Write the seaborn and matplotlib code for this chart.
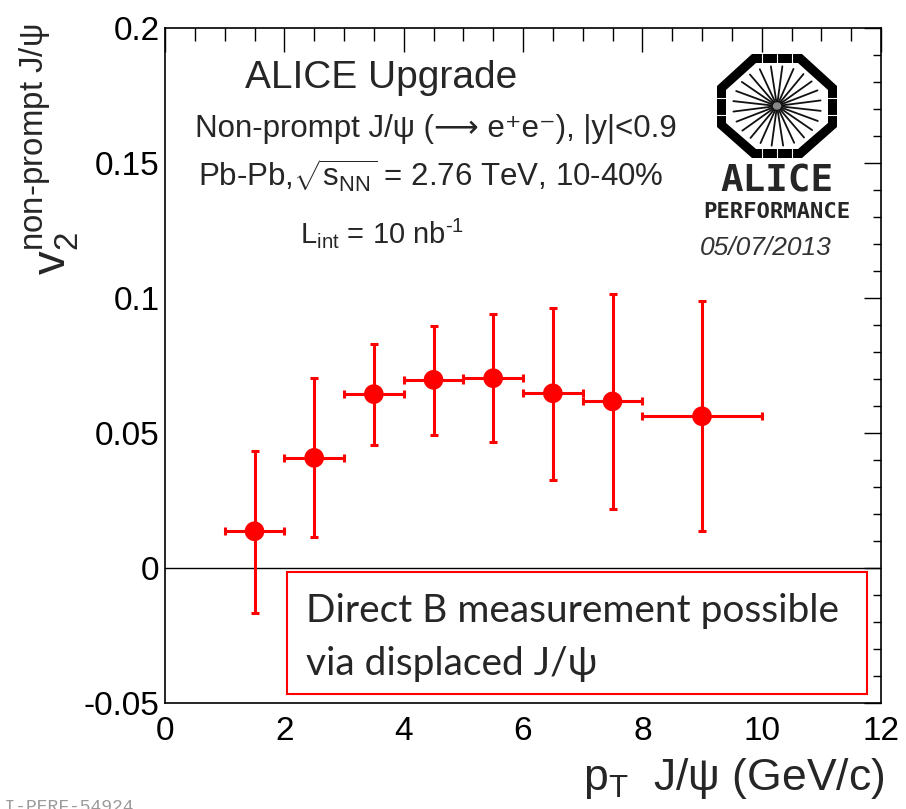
import numpy as np
import pandas as pd
import matplotlib
matplotlib.use("Agg")
import matplotlib.pyplot as plt
import seaborn as sns
from matplotlib.patches import Rectangle, Polygon
from matplotlib.ticker import MultipleLocator

# ---------------- data ----------------
pt_center = [1.5, 2.5, 3.5, 4.5, 5.5, 6.5, 7.5, 9.0]
pt_halfwidth = [0.5, 0.5, 0.5, 0.5, 0.5, 0.5, 0.5, 1.0]
v2_value = [0.0136, 0.0408, 0.0644, 0.0697, 0.0703, 0.0647, 0.0617, 0.0562]
v2_err_low = [0.0301, 0.0295, 0.0188, 0.0203, 0.0238, 0.0320, 0.0400, 0.0426]
v2_err_high = [0.0297, 0.0296, 0.0186, 0.0200, 0.0237, 0.0317, 0.0399, 0.0426]
x_ticks = [0, 2, 4, 6, 8, 10, 12]
y_ticks = [-0.05, 0, 0.05, 0.1, 0.15, 0.2]
y_tick_labels = ["-0.05", "0", "0.05", "0.1", "0.15", "0.2"]

df = pd.DataFrame({"pt": pt_center, "v2": v2_value})

# ---------------- style ----------------
sns.set_style("white")
plt.rcParams["font.family"] = ["Liberation Sans", "DejaVu Sans"]
plt.rcParams["mathtext.fontset"] = "custom"
plt.rcParams["mathtext.rm"] = "Liberation Sans"
plt.rcParams["mathtext.it"] = "Liberation Sans:italic"
plt.rcParams["mathtext.bf"] = "Liberation Sans:bold"
plt.rcParams["mathtext.sf"] = "Liberation Sans"

W, H = 906, 809
fig = plt.figure(figsize=(W / 100, H / 100), dpi=100)
fig.patch.set_facecolor("white")

def fx(px):
    return px / W

def fy(py):
    return 1 - py / H

ax = fig.add_axes([fx(165), fy(703), fx(881) - fx(165), fy(28) - fy(703)])
ax.set_facecolor("white")

# error bars + markers
ax.errorbar(df["pt"], df["v2"], xerr=pt_halfwidth, yerr=[v2_err_low, v2_err_high],
            fmt="none", ecolor="#ff0000", elinewidth=2.2, capsize=3, capthick=2.2, zorder=2)
sns.scatterplot(data=df, x="pt", y="v2", ax=ax, color="#ff0000", s=200,
                edgecolor="none", marker="o", zorder=3, legend=False)

ax.axhline(0, color="black", lw=1.0, zorder=1)

ax.set_xlim(0, 12)
ax.set_ylim(-0.05, 0.2)
ax.set_xticks(x_ticks)
ax.set_xticklabels([str(t) for t in x_ticks])
ax.set_yticks(y_ticks)
ax.set_yticklabels(y_tick_labels)
ax.xaxis.set_minor_locator(MultipleLocator(0.5))
ax.yaxis.set_minor_locator(MultipleLocator(0.01))
ax.tick_params(axis="both", which="both", direction="in", top=True, right=True,
               labelsize=24, colors="black", width=1.0)
ax.tick_params(axis="x", which="major", length=17, pad=9)
ax.tick_params(axis="x", which="minor", length=9)
ax.tick_params(axis="y", which="major", length=12, pad=4)
ax.tick_params(axis="y", which="minor", length=6)
for s in ax.spines.values():
    s.set_color("black")
    s.set_linewidth(1.2)
ax.set_xlabel("")
ax.set_ylabel("")

# axis titles
fig.text(fx(884), fy(790), r"p$_{\mathrm{T}}$  J/ψ (GeV/c)", ha="right", va="baseline",
         fontsize=32)
fig.text(fx(49), fy(24), r"$\mathrm{v}_{2}^{\mathrm{non}\text{-}\mathrm{prompt\ J/ψ}}$",
         rotation=90, ha="center", va="top", fontsize=34)

# in-plot texts
fig.text(fx(245), fy(88), "ALICE Upgrade", ha="left", va="baseline", fontsize=28)
fig.text(fx(195), fy(137), "Non-prompt J/ψ (\u27f6 e\u207ae\u207b), |y|<0.9",
         ha="left", va="baseline", fontsize=22.5, family=["Liberation Sans", "DejaVu Sans"])
fig.text(fx(198), fy(187), r"Pb-Pb,$\sqrt{\mathrm{s}_{\mathrm{NN}}}$ = 2.76 TeV, 10-40%",
         ha="left", va="baseline", fontsize=22.5)
fig.text(fx(300), fy(243), r"L$_{\mathrm{int}}$ = 10 nb$^{\text{-1}}$",
         ha="left", va="baseline", fontsize=21)

# ALICE logo
lax = fig.add_axes([fx(710), fy(165), fx(845) - fx(710), fy(50) - fy(165)])
lax.set_xlim(710, 845)
lax.set_ylim(165, 50)
lax.axis("off")
outer = [(752, 54), (802, 54), (837, 86), (837, 127), (802, 158), (752, 158), (717, 127), (717, 86)]
inner = [(756, 63), (798, 63), (828, 90), (828, 123), (798, 149), (756, 149), (726, 123), (726, 90)]
lax.add_patch(Polygon(outer, closed=True, facecolor="black", edgecolor="none"))
lax.add_patch(Polygon(inner, closed=True, facecolor="white", edgecolor="none"))
cxl, cyl = 777, 106
for k in range(24):
    a = np.deg2rad(k * 15 + 7)
    lax.plot([cxl + 5 * np.cos(a), cxl + 44 * np.cos(a)],
             [cyl + 4.5 * np.sin(a), cyl + 40 * np.sin(a)], color="#111111", lw=1.3)
lax.add_patch(plt.Circle((cxl, cyl), 4, color="#888888"))
for xx in (762, 777, 792):
    lax.plot([xx, xx], [54, 63], color="white", lw=0.8)
    lax.plot([xx, xx], [149, 158], color="white", lw=0.8)
for yy in (98, 115):
    lax.plot([717, 726], [yy, yy], color="white", lw=0.8)
    lax.plot([828, 837], [yy, yy], color="white", lw=0.8)

fig.text(fx(777), fy(192), "ALICE", ha="center", va="baseline", fontsize=27,
         family="DejaVu Sans Mono", weight="bold")
fig.text(fx(777), fy(218), "PERFORMANCE", ha="center", va="baseline", fontsize=16,
         family="DejaVu Sans Mono", weight="bold")
fig.text(fx(766), fy(255), "05/07/2013", ha="center", va="baseline", fontsize=19,
         style="italic", color="#333333")

# red annotation box
fig.patches.append(Rectangle((fx(287), fy(694)), fx(867) - fx(287), fy(572) - fy(694),
                             transform=fig.transFigure, facecolor="white",
                             edgecolor="#ff0000", lw=1.5, zorder=5))
fig.text(fx(306), fy(622), "Direct B measurement possible", ha="left", va="baseline",
         fontsize=28, family=["Lato", "DejaVu Sans"], zorder=6)
fig.text(fx(306), fy(675), "via displaced J/\u03c8", ha="left", va="baseline",
         fontsize=28, family=["Lato", "DejaVu Sans"], zorder=6)

# cut-off record id
fig.text(fx(-17), fy(799), "ALI-PERF-54924", ha="left", va="top", fontsize=13,
         family="Liberation Mono", color="#9a9a9a")

fig.savefig("out.png", dpi=100)
